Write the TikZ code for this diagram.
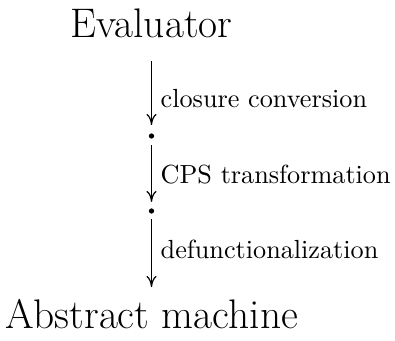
\documentclass[tikz,border=0pt]{standalone}
\usetikzlibrary{arrows.meta}
\begin{document}
\begin{tikzpicture}[x=0.418pt,y=-0.418pt]
\tikzset{stage/.style={font=\fontsize{17.28}{22}\selectfont, inner sep=0pt, anchor=base},
  dot/.style={circle, fill, inner sep=0pt, minimum size=2.2pt},
  step label/.style={anchor=base west, font=\fontsize{10.95}{13.6}\selectfont, inner sep=0pt, xshift=3.6pt},
  steparrow/.style={line width=0.5pt, -{To[length=4.6pt,width=4.2pt]}}}
\useasboundingbox (0,0) rectangle (395,340);
\node[stage] (eval) at (151.5,37) {Evaluator};
\node[dot] (d1) at (151.5,136) {};
\node[dot] (d2) at (151.5,211) {};
\node[stage] (am) at (151.5,328) {Abstract machine};
\draw[steparrow, shorten <=9.6pt, shorten >=3.3pt] (eval) -- node[step label, pos=0.735] (l1) {closure conversion} (d1);
\draw[steparrow, shorten <=2.5pt, shorten >=2.5pt] (d1) -- node[step label, pos=0.65] (l2) {CPS transformation} (d2);
\draw[steparrow, shorten <=2.2pt, shorten >=4.7pt] (d2) -- node[step label, pos=0.53] (l3) {defunctionalization} (am);
\end{tikzpicture}
\end{document}
